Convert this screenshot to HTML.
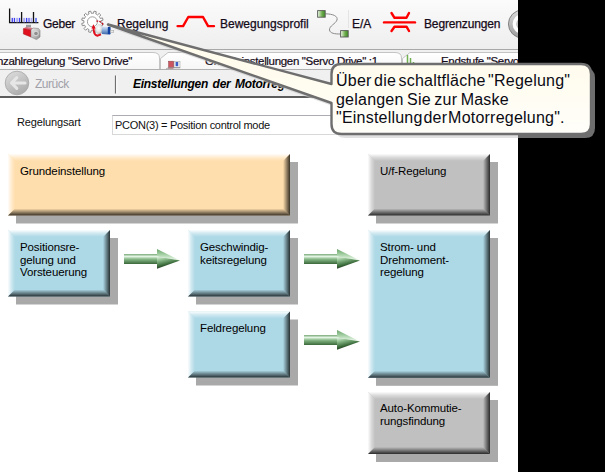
<!DOCTYPE html>
<html><head><meta charset="utf-8">
<style>
html,body{margin:0;padding:0;}
body{width:605px;height:472px;overflow:hidden;position:relative;background:#fff;font-family:"Liberation Sans",sans-serif;}
.a{position:absolute;white-space:pre;}
#tb{position:absolute;left:0;top:0;width:518px;height:49px;background:linear-gradient(#fbfbfb,#f3f3f3 60%,#eeeeee);}
.tt{position:absolute;font-size:12px;color:#140a18;line-height:14px;top:17px;-webkit-text-stroke:0.25px #140a18;}
#tabs{position:absolute;left:0;top:49px;width:518px;height:21px;background:#f0f0f0;border-top:1px solid #a8a8a8;box-sizing:border-box;}
#nav{position:absolute;left:0;top:70px;width:518px;height:26px;background:#f0f0f0;}
#navline{position:absolute;left:0;top:96px;width:518px;height:2px;background:#5c5c5c;}
.bt{position:absolute;white-space:pre;font-size:11.5px;letter-spacing:-0.12px;line-height:12.5px;color:#000;}
#black{position:absolute;left:518px;top:0;width:87px;height:472px;background:#000;}
</style></head><body>
<div id="tb"></div>
<!-- toolbar icons -->
<svg class="a" style="left:0;top:0" width="518" height="49">
  <!-- Geber ruler -->
  <g stroke="#111" stroke-width="1.3" fill="none">
    <path d="M9.6 8.4V22.7H38.4"/>
    <path d="M21.6 12V22.7M33.5 12V22.7"/>
  </g>
  <g>
    <rect x="11.6" y="17.9" width="1.3" height="4.4" fill="#3c3cf0"/>
    <rect x="13.8" y="17.9" width="1.3" height="4.4" fill="#3c3cf0"/>
    <rect x="16.2" y="17.9" width="2" height="4.4" fill="#a8a8f4"/>
    <rect x="18.9" y="17.9" width="1.3" height="4.4" fill="#3c3cf0"/>
    <rect x="23.2" y="17.9" width="2" height="4.4" fill="#a8a8f4"/>
    <rect x="26" y="17.9" width="1.3" height="4.4" fill="#3c3cf0"/>
    <rect x="28.2" y="17.9" width="1.6" height="4.4" fill="#7070f0"/>
    <rect x="30.6" y="17.9" width="1.8" height="4.4" fill="#b0b0f4"/>
    <rect x="35" y="17.9" width="2" height="4.4" fill="#7a8af0"/>
  </g>
  <!-- motor -->
  <defs>
    <linearGradient id="mgr" x1="0" y1="0" x2="1" y2="1"><stop offset="0" stop-color="#f0f0f0"/><stop offset="1" stop-color="#8a8a8a"/></linearGradient>
    <linearGradient id="slv" x1="0" y1="0" x2="1" y2="0"><stop offset="0" stop-color="#a8a8a8"/><stop offset="0.4" stop-color="#f8f8f8"/><stop offset="1" stop-color="#9a9a9a"/></linearGradient>
    <linearGradient id="blu" x1="0" y1="0" x2="0" y2="1"><stop offset="0" stop-color="#e0ecf8"/><stop offset="0.45" stop-color="#8fb0dc"/><stop offset="1" stop-color="#3a64a8"/></linearGradient>
    <linearGradient id="grn" x1="0" y1="0" x2="1" y2="0"><stop offset="0" stop-color="#f0f8ea"/><stop offset="0.6" stop-color="#6aaa48"/><stop offset="1" stop-color="#3f8a2a"/></linearGradient>
  </defs>
  <rect x="26" y="24.8" width="5" height="2.6" fill="#9a9a9a"/>
  <path d="M23.4 28.6 L26 27 L33 28 L31 30 Z" fill="#d07080"/>
  <path d="M23.4 28.6 L31 30 L31 37 L23.4 34 Z" fill="#e0101e" stroke="#a01018" stroke-width="0.5"/>
  <path d="M31 30 L33 28 L38.5 28.5 L40 30.5 L40 37 L36.5 39.6 L31 37 Z" fill="url(#mgr)" stroke="#808080" stroke-width="0.6"/>
  <circle cx="36" cy="33.5" r="2.3" fill="#909090" stroke="#f0f0f0" stroke-width="0.7"/>
  <!-- gear -->
  <g transform="translate(92.4 21.8)">
    <path fill="#fff" stroke="#8c8c8c" stroke-width="1" stroke-linejoin="round" d="M8.50 0.00 L8.44 0.98 L10.67 1.69 L10.08 3.87 L7.80 3.38 L7.36 4.25 L6.82 5.07 L8.39 6.80 L6.80 8.39 L5.07 6.82 L4.25 7.36 L3.38 7.80 L3.87 10.08 L1.69 10.67 L0.98 8.44 L0.00 8.50 L-0.98 8.44 L-1.69 10.67 L-3.87 10.08 L-3.38 7.80 L-4.25 7.36 L-5.07 6.82 L-6.80 8.39 L-8.39 6.80 L-6.82 5.07 L-7.36 4.25 L-7.80 3.38 L-10.08 3.87 L-10.67 1.69 L-8.44 0.98 L-8.50 0.00 L-8.44 -0.98 L-10.67 -1.69 L-10.08 -3.87 L-7.80 -3.38 L-7.36 -4.25 L-6.82 -5.07 L-8.39 -6.80 L-6.80 -8.39 L-5.07 -6.82 L-4.25 -7.36 L-3.38 -7.80 L-3.87 -10.08 L-1.69 -10.67 L-0.98 -8.44 L-0.00 -8.50 L0.98 -8.44 L1.69 -10.67 L3.87 -10.08 L3.38 -7.80 L4.25 -7.36 L5.07 -6.82 L6.80 -8.39 L8.39 -6.80 L6.82 -5.07 L7.36 -4.25 L7.80 -3.38 L10.08 -3.87 L10.67 -1.69 L8.44 -0.98 Z"/>
    <circle r="5" fill="#fff" stroke="#a0a0a0" stroke-width="1"/>
  </g>
  <path d="M103 24.6 A6 6 0 0 0 96.5 21.2" fill="none" stroke="#c01020" stroke-width="1.4" stroke-dasharray="2 1"/>
  <defs><radialGradient id="slr" cx="0.4" cy="0.4" r="0.7"><stop offset="0" stop-color="#ffffff"/><stop offset="0.6" stop-color="#e0e0e0"/><stop offset="1" stop-color="#8a8a8a"/></radialGradient></defs><ellipse cx="99.2" cy="29.1" rx="3.6" ry="5" fill="url(#slr)"/>
  <path d="M93.6 27.5 Q93.4 35 97.3 35.8 L101 34.4" fill="none" stroke="#e0101e" stroke-width="2"/>
  <path d="M91.4 28.6 L93.4 24.2 L95.8 28.4 Z" fill="#e0101e"/>
  <path d="M101.8 26.2 L108.2 27 L108.2 34.6 L101.8 34 Z" fill="url(#blu)"/>
  <rect x="107.8" y="26.8" width="2.8" height="7.8" rx="1" fill="#1040a0"/>
  <rect x="110.4" y="30.6" width="3.4" height="2" fill="#e8e8e8" stroke="#a0a0a0" stroke-width="0.5"/>
  <!-- profile -->
  <path d="M177.6 26.1 H183.1 L188.3 17 H203 L208.1 26.1 H214" fill="none" stroke="#ff0000" stroke-width="2.4" stroke-linejoin="round" stroke-linecap="round"/>
  <!-- E/A -->
  <path d="M325.5 13.8 C333 14 338 16 337 20 C336 23.5 329 26 329.5 30 C330 33.5 335 34 340.3 34" fill="none" stroke="#8a8a8a" stroke-width="1"/>
  <rect x="317.6" y="10.6" width="7.6" height="6.6" fill="url(#grn)" stroke="#5a5a5a" stroke-width="0.9"/>
  <rect x="340.6" y="30.6" width="7.6" height="6.4" fill="url(#grn)" stroke="#5a5a5a" stroke-width="0.9"/>
  <path d="M348.5 10 V28" stroke="#e4e4e4" stroke-width="1"/>
  <!-- limits -->
  <g fill="none" stroke="#ff0000" stroke-width="2.4" stroke-linecap="round" stroke-linejoin="round">
    <path d="M384 22.4H415"/>
    <path d="M391.5 13L394.5 17.8H406.5L409 13"/>
    <path d="M391.5 31L394.5 26.7H406.5L409 31"/>
  </g>
  <!-- partial round icon -->
  <defs><linearGradient id="disc" x1="0" y1="0" x2="0" y2="1"><stop offset="0" stop-color="#dcdcdc"/><stop offset="1" stop-color="#9c9c9c"/></linearGradient></defs>
  <circle cx="522.4" cy="24" r="14" fill="url(#disc)" stroke="#7a7a7a" stroke-width="0.9"/>
  <circle cx="522.4" cy="24" r="8" fill="none" stroke="#ffffff" stroke-width="3.6"/>
  <circle cx="522.4" cy="24" r="5.6" fill="#c8c8c8"/>
</svg>
<div class="tt" style="left:43px;letter-spacing:-0.25px">Geber</div>
<div class="tt" style="left:117px;">Regelung</div>
<div class="tt" style="left:220px;">Bewegungsprofil</div>
<div class="tt" style="left:352px;">E/A</div>
<div class="tt" style="left:424px;letter-spacing:-0.15px">Begrenzungen</div>

<!-- tabs -->
<div id="tabs"></div>
<svg class="a" style="left:0;top:49px" width="518" height="22">
  <defs>
    <linearGradient id="tabg" x1="0" y1="0" x2="0" y2="1"><stop offset="0" stop-color="#ffffff"/><stop offset="1" stop-color="#f6f6f6"/></linearGradient>
  </defs>
  <path d="M-1 20.5V3.5H153 Q159.5 3.5 159.5 9 V20.5" fill="url(#tabg)" stroke="#c4c4c4"/>
  <path d="M160.5 20.5V9.5 L168 3.5H395 Q401.5 3.5 401.5 9V20.5" fill="url(#tabg)" stroke="#c4c4c4"/>
  <path d="M402.5 20.5V9.5 L410 3.5H520V20.5" fill="url(#tabg)" stroke="#c4c4c4"/>
  <path d="M0 20.5H518" stroke="#b0b0b0"/>
  <!-- tab2 icon -->
  <rect x="174" y="12.5" width="6" height="6.5" fill="#f4f4f4" stroke="#a8a8a8" stroke-width="0.6"/>
  <rect x="175.6" y="13" width="2.6" height="4.2" fill="#3f5fc8"/>
  <rect x="168.6" y="12.2" width="5" height="7" fill="#cc5560" stroke="#8a4048" stroke-width="0.5"/>
  <path d="M166 20 L169 18.5 H180" stroke="#909090" stroke-width="0.8" fill="none"/>
  <!-- tab3 icon -->
  <path d="M407.5 6V20M410.5 9V20M413.5 13V20M416.5 16V20" stroke="#70b050" stroke-width="1.5"/>
</svg>
<div class="a" style="right:473px;top:54.5px;font-size:11.5px;color:#140a18;letter-spacing:-0.32px;-webkit-text-stroke:0.2px #140a18">Drehzahlregelung "Servo Drive"</div>
<div class="a" style="left:205px;top:54.5px;font-size:11.5px;color:#140a18;letter-spacing:-0.32px;-webkit-text-stroke:0.2px #140a18">Grundeinstellungen "Servo Drive" :1</div>
<div class="a" style="left:441px;top:54.5px;font-size:11.5px;color:#140a18;letter-spacing:-0.32px;-webkit-text-stroke:0.2px #140a18">Endstufe "Servo Drive"</div>

<!-- nav -->
<div id="nav"></div>
<div id="navline"></div>
<svg class="a" style="left:0;top:70px" width="140" height="27">
  <defs>
    <linearGradient id="bk" x1="0.2" y1="0" x2="0.8" y2="1"><stop offset="0" stop-color="#dcdcdc"/><stop offset="1" stop-color="#a8a8a8"/></linearGradient>
  </defs>
  <circle cx="17" cy="13" r="11.8" fill="url(#bk)" stroke="#a4a4a4" stroke-width="0.8"/>
  <g stroke="#e6e6e6" stroke-width="3" stroke-linecap="round" stroke-linejoin="round" fill="none">
    <path d="M11.5 13H25M16.8 7.6L11.5 13L16.8 18.4"/>
  </g>
  <path d="M115.5 5.5V23.5" stroke="#707070" stroke-width="1.2"/>
  <path d="M116.8 5.5V23.5" stroke="#ffffff" stroke-width="1"/>
</svg>
<div class="a" style="left:35px;top:77px;font-size:12px;color:#a0a0a8;letter-spacing:-0.5px">Zurück</div>
<div class="a" style="left:133px;top:77px;font-size:12px;font-weight:bold;font-style:italic;color:#000;letter-spacing:-0.28px;word-spacing:1.5px;">Einstellungen der Motorregelung</div>

<!-- content -->
<div class="a" style="left:17px;top:116px;font-size:11px;color:#101010;letter-spacing:-0.14px">Regelungsart</div>
<div class="a" style="left:112px;top:115px;width:300px;height:20px;box-sizing:border-box;border:1px solid #d8d8d8;border-top-color:#abadb3;background:#fff;"></div>
<div class="a" style="left:115px;top:119px;font-size:11px;color:#101010;letter-spacing:-0.28px">PCON(3) = Position control mode</div>

<svg class="a" style="left:0;top:0" width="518" height="472">
  <defs>
    <linearGradient id="lt" x1="0" y1="0" x2="0" y2="1"><stop offset="0" stop-color="#fff" stop-opacity="0.95"/><stop offset="0.5" stop-color="#fff" stop-opacity="0.4"/><stop offset="1" stop-color="#fff" stop-opacity="0"/></linearGradient>
    <linearGradient id="ll" x1="0" y1="0" x2="1" y2="0"><stop offset="0" stop-color="#fff" stop-opacity="0.95"/><stop offset="0.5" stop-color="#fff" stop-opacity="0.4"/><stop offset="1" stop-color="#fff" stop-opacity="0"/></linearGradient>
    <linearGradient id="dr" x1="0" y1="0" x2="1" y2="0"><stop offset="0" stop-color="#000" stop-opacity="0"/><stop offset="1" stop-color="#000" stop-opacity="0.78"/></linearGradient>
    <linearGradient id="db" x1="0" y1="0" x2="0" y2="1"><stop offset="0" stop-color="#000" stop-opacity="0"/><stop offset="1" stop-color="#000" stop-opacity="0.78"/></linearGradient>
    <linearGradient id="sh" x1="0" y1="0" x2="0" y2="1"><stop offset="0" stop-color="#78a878"/><stop offset="0.25" stop-color="#e4f4e4"/><stop offset="0.5" stop-color="#8abb8a"/><stop offset="1" stop-color="#3a683a"/></linearGradient>
    <linearGradient id="hd" x1="0" y1="0" x2="0" y2="1"><stop offset="0" stop-color="#6aa46a"/><stop offset="0.5" stop-color="#a8d2a8"/><stop offset="1" stop-color="#f2fcf2"/></linearGradient><linearGradient id="hd2" x1="0" y1="0" x2="0.45" y2="1"><stop offset="0" stop-color="#eaf7ea"/><stop offset="0.3" stop-color="#8ebe8e"/><stop offset="0.65" stop-color="#3f703f"/><stop offset="1" stop-color="#0c1a0c"/></linearGradient>
  </defs>
  <g id="boxes"><rect x="16" y="162" width="282" height="61.5" fill="#a9a9a9"/><rect x="8" y="154" width="282" height="61.5" fill="#ffdead"/><polygon points="8,154 290,154 283,161 15,161" fill="url(#lt)"/><polygon points="8,154 15,161 15,208.5 8,215.5" fill="url(#ll)"/><polygon points="290,154 290,215.5 283,208.5 283,161" fill="url(#dr)"/><polygon points="8,215.5 290,215.5 283,208.5 15,208.5" fill="url(#db)"/><rect x="376" y="162" width="122" height="61.5" fill="#a9a9a9"/><rect x="368" y="154" width="122" height="61.5" fill="#c0c0c0"/><polygon points="368,154 490,154 483,161 375,161" fill="url(#lt)"/><polygon points="368,154 375,161 375,208.5 368,215.5" fill="url(#ll)"/><polygon points="490,154 490,215.5 483,208.5 483,161" fill="url(#dr)"/><polygon points="368,215.5 490,215.5 483,208.5 375,208.5" fill="url(#db)"/><rect x="16" y="238" width="102" height="66.5" fill="#a9a9a9"/><rect x="8" y="230" width="102" height="66.5" fill="#add8e6"/><polygon points="8,230 110,230 103,237 15,237" fill="url(#lt)"/><polygon points="8,230 15,237 15,289.5 8,296.5" fill="url(#ll)"/><polygon points="110,230 110,296.5 103,289.5 103,237" fill="url(#dr)"/><polygon points="8,296.5 110,296.5 103,289.5 15,289.5" fill="url(#db)"/><rect x="196" y="238" width="102" height="66.5" fill="#a9a9a9"/><rect x="188" y="230" width="102" height="66.5" fill="#add8e6"/><polygon points="188,230 290,230 283,237 195,237" fill="url(#lt)"/><polygon points="188,230 195,237 195,289.5 188,296.5" fill="url(#ll)"/><polygon points="290,230 290,296.5 283,289.5 283,237" fill="url(#dr)"/><polygon points="188,296.5 290,296.5 283,289.5 195,289.5" fill="url(#db)"/><rect x="196" y="319.5" width="102" height="66" fill="#a9a9a9"/><rect x="188" y="311.5" width="102" height="66" fill="#add8e6"/><polygon points="188,311.5 290,311.5 283,318.5 195,318.5" fill="url(#lt)"/><polygon points="188,311.5 195,318.5 195,370.5 188,377.5" fill="url(#ll)"/><polygon points="290,311.5 290,377.5 283,370.5 283,318.5" fill="url(#dr)"/><polygon points="188,377.5 290,377.5 283,370.5 195,370.5" fill="url(#db)"/><rect x="376" y="238" width="122" height="147.8" fill="#a9a9a9"/><rect x="368" y="230" width="122" height="147.8" fill="#add8e6"/><polygon points="368,230 490,230 483,237 375,237" fill="url(#lt)"/><polygon points="368,230 375,237 375,370.8 368,377.8" fill="url(#ll)"/><polygon points="490,230 490,377.8 483,370.8 483,237" fill="url(#dr)"/><polygon points="368,377.8 490,377.8 483,370.8 375,370.8" fill="url(#db)"/><rect x="376" y="400" width="122" height="62" fill="#a9a9a9"/><rect x="368" y="392" width="122" height="62" fill="#c0c0c0"/><polygon points="368,392 490,392 483,399 375,399" fill="url(#lt)"/><polygon points="368,392 375,399 375,447 368,454" fill="url(#ll)"/><polygon points="490,392 490,454 483,447 483,399" fill="url(#dr)"/><polygon points="368,454 490,454 483,447 375,447" fill="url(#db)"/></g>
  <g id="arrows"><rect x="124" y="254" width="33.5" height="10" fill="url(#sh)"/><polygon points="157,249 180,260.4 157,256.6" fill="url(#hd)"/><polygon points="157,256.6 180,260.4 157,268.8" fill="url(#hd2)"/><rect x="304" y="254" width="33.5" height="10" fill="url(#sh)"/><polygon points="337,249 360,260.4 337,256.6" fill="url(#hd)"/><polygon points="337,256.6 360,260.4 337,268.8" fill="url(#hd2)"/><rect x="304" y="335" width="33.5" height="10" fill="url(#sh)"/><polygon points="337,330 360,341.4 337,337.6" fill="url(#hd)"/><polygon points="337,337.6 360,341.4 337,349.8" fill="url(#hd2)"/></g>
</svg>
<div class="bt" style="left:20px;top:165px;">Grundeinstellung</div>
<div class="bt" style="left:380px;top:165px;">U/f-Regelung</div>
<div class="bt" style="left:20px;top:241px;">Positionsre-
gelung und
Vorsteuerung</div>
<div class="bt" style="left:200px;top:241px;">Geschwindig-
keitsregelung</div>
<div class="bt" style="left:200px;top:322px;">Feldregelung</div>
<div class="bt" style="left:380px;top:241px;">Strom- und
Drehmoment-
regelung</div>
<div class="bt" style="left:380px;top:402px;">Auto-Kommutie-
rungsfindung</div>

<div id="black"></div>

<!-- callout -->
<svg class="a" style="left:0;top:0" width="605" height="472">
  <defs><linearGradient id="cog" gradientUnits="userSpaceOnUse" x1="0" y1="64" x2="0" y2="134"><stop offset="0" stop-color="#fffbed"/><stop offset="1" stop-color="#fffef9"/></linearGradient></defs>
  <path transform="translate(4 4)" d="M108 24.5 L331.5 84 V74 Q331.5 64 341.5 64 H581 Q591 64 591 74 V124 Q591 134 581 134 H341.5 Q331.5 134 331.5 124 V103 Z" fill="rgba(200,200,200,0.55)"/>
  <path d="M108 24.5 L331.5 84 V74 Q331.5 64 341.5 64 H581 Q591 64 591 74 V124 Q591 134 581 134 H341.5 Q331.5 134 331.5 124 V103 Z" fill="url(#cog)" stroke="#6e6e6e" stroke-width="2.4" stroke-linejoin="round"/>
</svg>
<div class="a" style="left:336px;top:72px;font-size:16px;line-height:18.5px;color:#0a0a14;letter-spacing:0.22px;word-spacing:-2.2px;">Über die schaltfläche "Regelung"
<span style="word-spacing:-1.2px">gelangen Sie zur Maske</span>
"Einstellung<span style="word-spacing:-3.8px"> der Motorregelung".</span></div>

</body></html>
